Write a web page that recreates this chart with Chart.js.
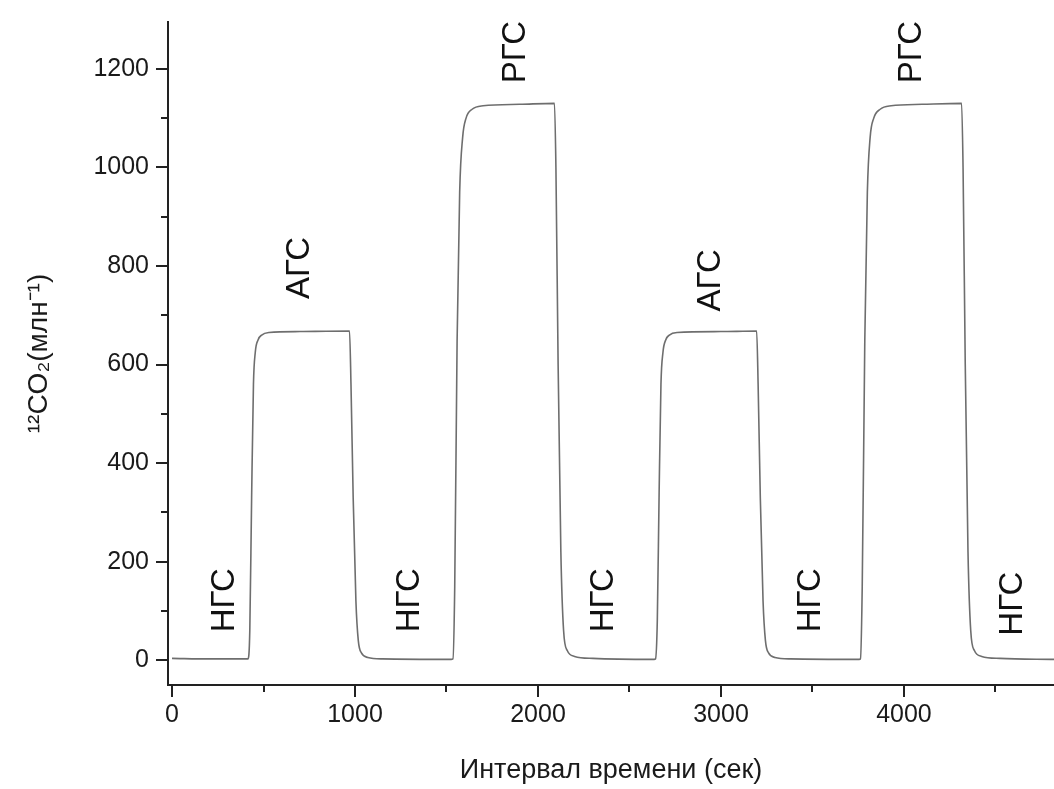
<!DOCTYPE html>
<html>
<head>
<meta charset="utf-8">
<script src="https://cdn.jsdelivr.net/npm/chart.js@4.4.1/dist/chart.umd.min.js"></script>
<style>
  body { margin: 0; background: #fff; }
</style>
</head>
<body>
<canvas id="chart" width="1054" height="789"></canvas>
<script>
// время (сек) и концентрация 12CO2 (млн-1)
var time = [
  0, 200, 415, 425, 435, 445, 455, 470, 490, 530, 700, 970,
  978, 990, 1005, 1018, 1035, 1070, 1150, 1525,
  1535, 1545, 1558, 1572, 1588, 1607, 1640, 1700, 1900, 2090,
  2098, 2110, 2125, 2140, 2160, 2200, 2300, 2635,
  2642, 2652, 2662, 2672, 2683, 2698, 2718, 2760, 3000, 3195,
  3203, 3215, 3230, 3243, 3260, 3295, 3380, 3755,
  3762, 3772, 3786, 3800, 3815, 3835, 3870, 3930, 4100, 4315,
  4323, 4335, 4350, 4365, 4385, 4425, 4525, 4820
];
var co2 = [
  4, 3, 3, 60, 330, 560, 625, 650, 660, 665, 667, 668,
  560, 330, 120, 40, 15, 6, 3, 2,
  3, 150, 650, 950, 1060, 1100, 1118, 1125, 1128, 1130,
  1000, 600, 220, 60, 20, 8, 4, 2,
  3, 80, 340, 560, 625, 650, 660, 665, 667, 668,
  560, 330, 120, 40, 15, 6, 3, 2,
  3, 150, 650, 950, 1060, 1100, 1118, 1125, 1128, 1130,
  1000, 600, 220, 60, 20, 8, 4, 2
];

// подписи режимов
var modeNames = ['НГС', 'АГС', 'НГС', 'РГС', 'НГС', 'АГС', 'НГС', 'РГС', 'НГС'];
var modeX = [289, 698, 1298, 1882, 2362, 2946, 3492, 4042, 4593];
var modeY = [122, 796, 122, 1234, 122, 771, 122, 1234, 115];

// метки осей (подписаны) и все деления
var xTicks = [0, 1000, 2000, 3000, 4000];
var xMarks = [0, 500, 1000, 1500, 2000, 2500, 3000, 3500, 4000, 4500];
var yTicks = [0, 200, 400, 600, 800, 1000, 1200];
var yMarks = [0, 100, 200, 300, 400, 500, 600, 700, 800, 900, 1000, 1100, 1200];

var points = [];
for (var i = 0; i < time.length; i++) {
  points.push({x: time[i], y: co2[i]});
}

var fontFamily = "'Liberation Sans', Arial, sans-serif";
var axisColor = '#222';

// основные деления рисует Chart.js, промежуточные - короче
function majorOnly(list) {
  return function(c) {
    return (c.tick && list.indexOf(c.tick.value) >= 0) ? axisColor : 'rgba(0,0,0,0)';
  };
}

var minorTicks = {
  id: 'minorTicks',
  afterDraw: function(chart) {
    var ctx = chart.ctx;
    var sx = chart.scales.x, sy = chart.scales.y;
    ctx.save();
    ctx.strokeStyle = axisColor;
    ctx.lineWidth = 2;
    ctx.beginPath();
    xMarks.forEach(function(v) {
      if (xTicks.indexOf(v) >= 0) return;
      var px = Math.round(sx.getPixelForValue(v));
      ctx.moveTo(px, sx.top);
      ctx.lineTo(px, sx.top + 7);
    });
    yMarks.forEach(function(v) {
      if (yTicks.indexOf(v) >= 0) return;
      var py = Math.round(sy.getPixelForValue(v));
      ctx.moveTo(sy.right, py);
      ctx.lineTo(sy.right - 7, py);
    });
    ctx.stroke();
    ctx.restore();
  }
};

// рисуем повернутые подписи НГС / АГС / РГС
var modeLabels = {
  id: 'modeLabels',
  afterDatasetsDraw: function(chart) {
    var ctx = chart.ctx;
    var sx = chart.scales.x, sy = chart.scales.y;
    ctx.save();
    ctx.fillStyle = '#111';
    ctx.font = '33px ' + fontFamily;
    ctx.textAlign = 'center';
    ctx.textBaseline = 'middle';
    for (var i = 0; i < modeNames.length; i++) {
      ctx.save();
      ctx.translate(sx.getPixelForValue(modeX[i]), sy.getPixelForValue(modeY[i]));
      ctx.rotate(-Math.PI / 2);
      ctx.fillText(modeNames[i], 0, 0);
      ctx.restore();
    }
    ctx.restore();
  }
};

var ctx = document.getElementById('chart').getContext('2d');
window.co2Chart = new Chart(ctx, {
  type: 'line',
  data: {
    datasets: [{
      data: points,
      borderColor: '#6e6e6e',
      borderWidth: 1.6,
      pointRadius: 0,
      fill: false,
      cubicInterpolationMode: 'monotone'
    }]
  },
  options: {
    responsive: false,
    animation: false,
    layout: { padding: { top: 22, right: 0, left: 0, bottom: 0 } },
    plugins: {
      legend: { display: false },
      tooltip: { enabled: false }
    },
    scales: {
      x: {
        type: 'linear',
        min: -22,
        max: 4820,
        ticks: {
          autoSkip: false,
          maxRotation: 0,
          padding: 3,
          color: '#1a1a1a',
          font: { family: fontFamily, size: 25 },
          callback: function(v) { return xTicks.indexOf(v) >= 0 ? String(v) : ''; }
        },
        afterBuildTicks: function(scale) {
          scale.ticks = xMarks.map(function(v) { return {value: v}; });
        },
        grid: { drawOnChartArea: false, drawTicks: true, tickLength: 12, color: majorOnly(xTicks), lineWidth: 2 },
        border: { color: axisColor, width: 2 },
        title: {
          display: true,
          text: 'Интервал времени (сек)',
          color: '#1a1a1a',
          font: { family: fontFamily, size: 27 },
          padding: { top: 0, bottom: 2 }
        },
        afterFit: function(scale) { scale.height = 104; }
      },
      y: {
        min: -50,
        max: 1295,
        ticks: {
          autoSkip: false,
          padding: 7,
          color: '#1a1a1a',
          font: { family: fontFamily, size: 25 },
          callback: function(v) { return yTicks.indexOf(v) >= 0 ? String(v) : ''; }
        },
        afterBuildTicks: function(scale) {
          scale.ticks = yMarks.map(function(v) { return {value: v}; });
        },
        grid: { drawOnChartArea: false, drawTicks: true, tickLength: 12, color: majorOnly(yTicks), lineWidth: 2 },
        border: { color: axisColor, width: 2 },
        title: {
          display: true,
          text: '¹²CO₂(млн⁻¹)',
          color: '#1a1a1a',
          font: { family: fontFamily, size: 28 },
          padding: { top: 22, bottom: 0 }
        },
        afterFit: function(scale) { scale.width = 168; }
      }
    }
  },
  plugins: [modeLabels, minorTicks]
});
</script>
</body>
</html>
